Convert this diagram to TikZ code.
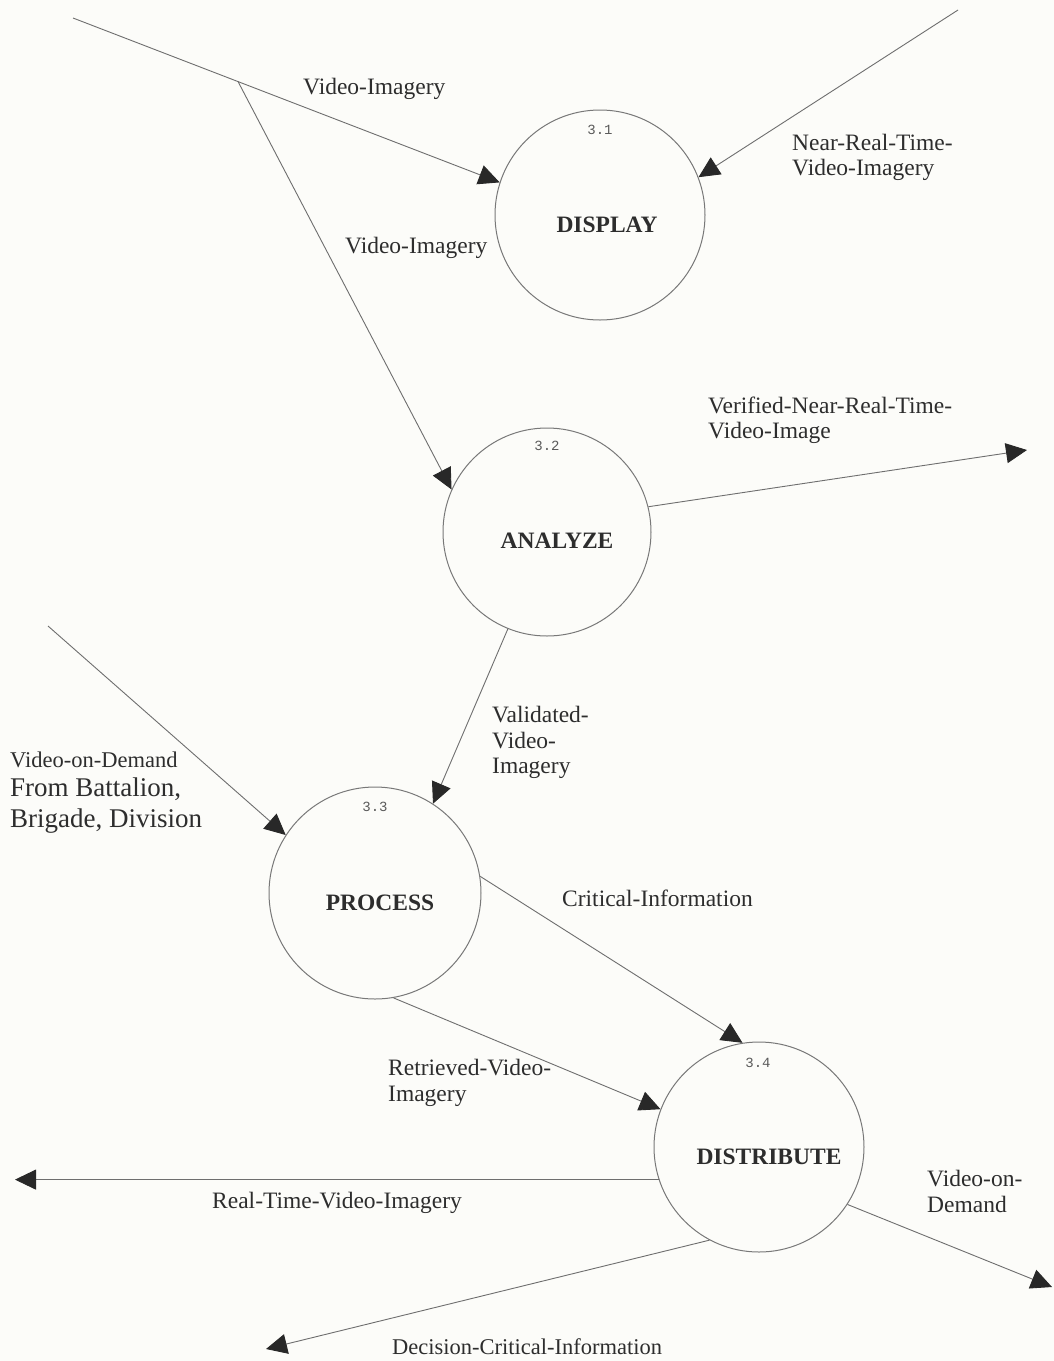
\documentclass[tikz,border=0pt]{standalone}
\usepackage{fontspec}
\setmainfont{Liberation Serif}
\newfontfamily\monofont{Liberation Mono}
\usetikzlibrary{arrows.meta}
\definecolor{bgc}{RGB}{252,252,249}
\definecolor{circlec}{RGB}{120,120,120}
\definecolor{linec}{RGB}{110,110,110}
\definecolor{tipc}{RGB}{40,40,40}
\definecolor{textc}{RGB}{45,45,45}
\definecolor{numc}{RGB}{90,90,90}
\begin{document}
\begin{tikzpicture}[x=1pt,y=-1pt,
  proc/.style={circle,draw=circlec,line width=1pt,minimum size=210pt,inner sep=0pt},
  flow/.style={draw=linec,line width=0.9pt,-{Triangle[length=21pt,width=20pt,color=tipc]}},
  lbl/.style={inner sep=0pt,anchor=west,align=left,text=textc,font=\fontsize{23.5}{25.5}\selectfont},
  pname/.style={inner sep=0pt,text=textc,font=\fontsize{23.5}{26}\selectfont\bfseries},
  pnum/.style={inner sep=0pt,text=numc,font=\fontsize{14}{15}\selectfont\monofont},
]
% page
\path[fill=bgc] (0,0) rectangle (1054,1361);

% processes
\node[proc] (disp) at (600,215) {};
\node[proc,minimum size=208pt] (ana) at (547,532) {};
\node[proc,minimum size=212pt] (pro) at (375,893) {};
\node[proc] (dist) at (759,1147) {};

\node[pnum] (dispnum) at (600,130) {3.1};
\node[pnum] (ananum) at (547,446) {3.2};
\node[pnum] (pronum) at (375,807) {3.3};
\node[pnum] (distnum) at (758,1063) {3.4};

\node[pname] (dispname) at (607,225) {DISPLAY};
\node[pname] (ananame) at (557,541) {ANALYZE};
\node[pname] (proname) at (380,903) {PROCESS};
\node[pname] (distname) at (769,1157) {DISTRIBUTE};

% free ends of the flows
\coordinate (srcA) at (73,18);
\coordinate (fork) at (238,81.5);
\coordinate (srcB) at (958,10);
\coordinate (outA) at (1027,450);
\coordinate (srcC) at (48,626);
\coordinate (outB) at (15,1180);
\coordinate (outC) at (1052,1287);
\coordinate (outD) at (266,1349);

% flows
\draw[flow] (srcA) -- (disp.162);
\draw[flow] (fork) -- (ana.156);
\draw[flow] (srcB) -- (disp.21);
\draw[flow] (ana.14) -- (outA);
\draw[flow] (ana.248) -- (pro.57);
\draw[flow] (srcC) -- (pro.147);
\draw[flow] (pro.9) -- (dist.99);
\draw[flow] (pro.280) -- (dist.159);
\draw[flow] (dist.198) -- (dist.198 -| outB);
\draw[flow] (dist.327) -- (outC);
\draw[flow] (dist.242) -- (outD);

% flow labels
\node[lbl] (l1) at (303,89) {Video-Imagery};
\node[lbl] (l2) at (345,248) {Video-Imagery};
\node[lbl] (l3) at (792,157.5) {Near-Real-Time-\\Video-Imagery};
\node[lbl] (l4) at (708,420.5) {Verified-Near-Real-Time-\\Video-Image};
\node[lbl] (l5) at (492,742.5) {Validated-\\Video-\\Imagery};
\node[lbl,font=\fontsize{22.5}{25}\selectfont] (l6a) at (10,760) {Video-on-Demand};
\node[lbl,font=\fontsize{27}{31}\selectfont] (l6b) at (10,806) {From Battalion,\\Brigade, Division};
\node[lbl] (l7) at (562,898) {Critical-Information};
\node[lbl] (l8) at (388,1083) {Retrieved-Video-\\Imagery};
\node[lbl] (l9) at (212,1203) {Real-Time-Video-Imagery};
\node[lbl] (l10) at (927,1191.5) {Video-on-\\Demand};
\node[lbl,font=\fontsize{22.5}{25}\selectfont] (l11) at (392,1347) {Decision-Critical-Information};
\end{tikzpicture}
\end{document}
